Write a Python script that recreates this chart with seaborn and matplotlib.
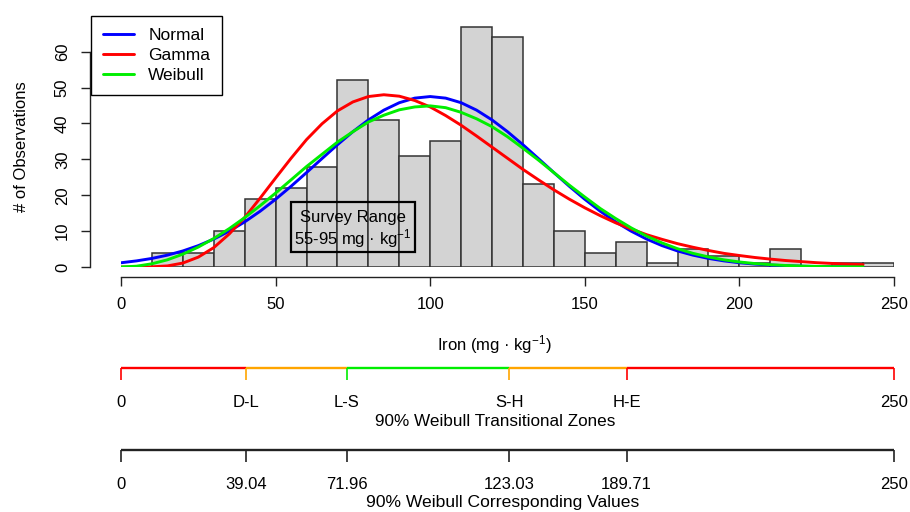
import numpy as np
import pandas as pd
import seaborn as sns
import matplotlib.pyplot as plt
from matplotlib.lines import Line2D
from matplotlib.patches import Rectangle

# histogram counts (10 mg/kg bins, 0-250)
bin_edges = list(range(0, 260, 10))
counts = [0, 4, 4, 10, 19, 22, 28, 52, 41, 31, 35, 67, 64, 23, 10,
          4, 7, 1, 5, 3, 1, 5, 0, 1, 1]

# fitted curves (every 5 mg/kg, 0-240)
curve_x = list(range(0, 245, 5))
normal_y = [1.18, 1.70, 2.39, 3.30, 4.47, 5.95, 7.78, 9.98, 12.57, 15.54,
            18.87, 22.49, 26.31, 30.21, 34.07, 37.71, 40.98, 43.71, 45.78, 47.06,
            47.5, 47.06, 45.78, 43.71, 40.98, 37.71, 34.07, 30.21, 26.31, 22.49,
            18.87, 15.54, 12.57, 9.98, 7.78, 5.95, 4.47, 3.30, 2.39, 1.70,
            1.18, 0.81, 0.54, 0.36, 0.23, 0.15, 0.09, 0.06, 0.035]
gamma_y = [0.0, 0.0, 0.05, 0.3, 1.1, 2.75, 5.4, 9.2, 13.8, 19.2,
           24.8, 30.3, 35.5, 39.9, 43.5, 46.0, 47.5, 48.0, 47.6, 46.4,
           44.6, 42.2, 39.5, 36.5, 33.4, 30.3, 27.2, 24.3, 21.5, 18.9,
           16.5, 14.3, 12.3, 10.6, 9.0, 7.7, 6.5, 5.5, 4.6, 3.8,
           3.2, 2.65, 2.2, 1.8, 1.5, 1.2, 0.99, 0.8, 0.66]
weibull_y = [0.0, 0.22, 0.9, 2.0, 3.58, 5.56, 7.94, 10.69, 13.75, 17.09,
             20.6, 24.28, 27.99, 31.4, 34.8, 37.7, 40.4, 42.3, 43.8, 44.6,
             44.9, 44.4, 43.1, 41.3, 39.1, 36.3, 33.1, 29.8, 26.3, 22.8,
             19.5, 16.3, 13.5, 10.9, 8.6, 6.7, 5.1, 3.8, 2.8, 2.0,
             1.4, 0.96, 0.65, 0.42, 0.26, 0.16, 0.09, 0.05, 0.03]

# survey range box
survey_lo, survey_hi = 55, 95

# transitional zones
zone_pos = [0, 40.5, 73, 125.5, 163.5, 250]
zone_labels = ["0", "D-L", "L-S", "S-H", "H-E", "250"]
zone_value_labels = ["0", "39.04", "71.96", "123.03", "189.71", "250"]
zone_colors = ["red", "orange", "#00ee00", "orange", "red"]
zone_tick_colors = ["red", "orange", "#00ee00", "orange", "red", "red"]

sns.set_style("white")
plt.rcParams["font.family"] = ["Liberation Sans", "DejaVu Sans"]
plt.rcParams["mathtext.default"] = "regular"
plt.rcParams["text.color"] = "black"

W, H = 910, 512
fig = plt.figure(figsize=(W / 100, H / 100), dpi=100)


def fx(px):
    return px / W


def fy(py):
    return 1 - py / H


#%% main histogram
x0, x1 = 121, 894
ax = fig.add_axes([fx(x0), fy(267), (x1 - x0) / W, (267 - 15.8) / H])
mids = [e + 5 for e in bin_edges[:-1]]
sns.histplot(x=mids, weights=counts, bins=bin_edges, color="#d3d3d3",
             edgecolor="#333333", linewidth=1.1, alpha=1, ax=ax)
sns.lineplot(x=curve_x, y=normal_y, color="blue", linewidth=2.1, ax=ax)
sns.lineplot(x=curve_x, y=gamma_y, color="red", linewidth=2.1, ax=ax)
sns.lineplot(x=curve_x, y=weibull_y, color="#00ee00", linewidth=2.1, ax=ax)

ax.set_xlim(0, 250)
ax.set_ylim(0, 70)
ax.set_xlabel("")
ax.set_ylabel("")
for s in ["top", "right"]:
    ax.spines[s].set_visible(False)
ax.spines["left"].set_position(("outward", 22.3))
ax.spines["left"].set_bounds(0, 60)
ax.spines["bottom"].set_position(("outward", 7.2))
ax.spines["bottom"].set_bounds(0, 250)
for s in ["left", "bottom"]:
    ax.spines[s].set_color("#222222")
    ax.spines[s].set_linewidth(1)
ax.set_xticks(range(0, 251, 50))
ax.set_yticks(range(0, 61, 10))
ax.tick_params(axis="both", length=6.5, width=1, color="#222222",
               labelsize=12, labelcolor="black", pad=8, left=True, bottom=True)
ax.tick_params(axis="y", labelrotation=90)
for lab in ax.get_yticklabels():
    lab.set_va("center")

# survey range box
ax.add_patch(Rectangle((survey_lo, 4.3), survey_hi - survey_lo, 13.9,
                       fill=False, edgecolor="black", linewidth=1.6))
ax.text((survey_lo + survey_hi) / 2, 13.9, "Survey Range", ha="center",
        va="center", fontsize=12)
ax.text((survey_lo + survey_hi) / 2, 8.0, "55-95 mg · kg$^{-1}$", ha="center",
        va="center", fontsize=12)

handles = [Line2D([], [], color=c, linewidth=2.1)
           for c in ["blue", "red", "#00ee00"]]
leg = ax.legend(handles, ["Normal", "Gamma", "Weibull"], loc="upper left",
                bbox_to_anchor=(fx(91), fy(16)), bbox_transform=fig.transFigure,
                borderaxespad=0, fontsize=12.5, frameon=True, fancybox=False,
                edgecolor="black", framealpha=1, handlelength=1.75,
                handletextpad=0.85, labelspacing=0.28, borderpad=0.7)
leg.get_frame().set_linewidth(1)

fig.text(fx(22), fy(147), "# of Observations", rotation=90, ha="center",
         va="center", fontsize=12)
fig.text(fx(494), fy(345), "Iron (mg · kg$^{-1}$)", ha="center", va="center",
         fontsize=12)


#%% zone axes
def zone_axis(top, labels, seg_colors, tick_colors):
    axz = fig.add_axes([fx(x0), fy(top + 12), (x1 - x0) / W, 12 / H])
    axz.set_xlim(0, 250)
    axz.set_ylim(0, 1)
    for i in range(len(zone_pos) - 1):
        axz.plot(zone_pos[i:i + 2], [1, 1], color=seg_colors[i], linewidth=1.7,
                 clip_on=False, solid_capstyle="butt")
    axz.vlines(zone_pos, 0, 1, colors=tick_colors, linewidth=1.2, clip_on=False)
    for s in axz.spines.values():
        s.set_visible(False)
    axz.set_yticks([])
    axz.set_xticks(zone_pos)
    axz.set_xticklabels(labels)
    axz.tick_params(axis="x", length=0, labelsize=12, labelcolor="black",
                    pad=11)
    return axz


zone_axis(368, zone_labels, zone_colors, zone_tick_colors)
zone_axis(450, zone_value_labels, ["#222222"] * 5, ["#222222"] * 6)
fig.text(fx(495), fy(421), "90% Weibull Transitional Zones", ha="center",
         va="center", fontsize=12.3)
fig.text(fx(503), fy(503), "90% Weibull Corresponding Values", ha="center",
         va="center", fontsize=12.6)

fig.savefig("out.png", dpi=100)
